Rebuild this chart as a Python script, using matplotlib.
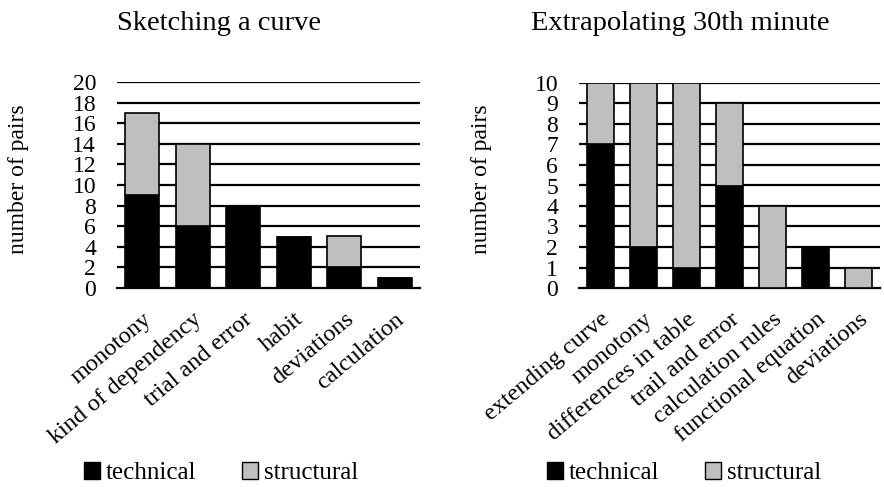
import numpy as np
import matplotlib
matplotlib.use("Agg")
import matplotlib.pyplot as plt
from matplotlib.patches import Patch

plt.rcParams['font.family'] = ['Liberation Serif', 'DejaVu Serif']

# sketching a curve
cats_a = ["monotony", "kind of dependency", "trial and error", "habit",
          "deviations", "calculation"]
tech_a = [9, 6, 8, 5, 2, 1]
struct_a = [8, 8, 0, 0, 3, 0]

# extrapolating 30th minute
cats_b = ["extending curve", "monotony", "differences in table",
          "trail and error", "calculation rules", "functional equation",
          "deviations"]
tech_b = [7, 2, 1, 5, 0, 2, 0]
struct_b = [3, 8, 9, 4, 4, 0, 1]

GREY = "#bfbfbf"

fig = plt.figure(figsize=(8.84, 4.87), dpi=100)
ax1 = fig.add_axes([117/884, 1-288/487, 303/884, 206/487])
ax2 = fig.add_axes([579/884, 1-288/487, 301/884, 205/487])


def draw(ax, cats, tech, struct, ymax, step, width, title, tx):
    x = np.arange(len(cats))
    ax.bar(x, tech, width, color="black", edgecolor="black", linewidth=1.2, zorder=3)
    ax.bar(x, struct, width, bottom=tech, color=GREY, edgecolor="black",
           linewidth=1.2, zorder=3)
    ax.set_xlim(-0.5, len(cats) - 0.5)
    ax.set_ylim(0, ymax)
    ticks = np.arange(0, ymax + step, step)
    ax.set_yticks(ticks)
    ax.set_yticklabels([str(t) for t in ticks], fontsize=17)
    for t in ticks[1:]:
        ax.axhline(t, color="black", linewidth=1.6, zorder=1)
    for s in ["top", "right", "left"]:
        ax.spines[s].set_visible(False)
    ax.spines["bottom"].set_linewidth(1.6)
    ax.tick_params(axis="both", length=0)
    ax.tick_params(axis="y", pad=15)
    ax.set_xticks(x)
    ax.set_xticklabels(cats, rotation=40, ha="right", rotation_mode="anchor",
                       fontsize=17.5)
    ax.tick_params(axis="x", pad=15)
    ax.set_ylabel("number of pairs", fontsize=17)
    fig.text(tx, 1 - 23/487, title, ha="center", va="center", fontsize=20.5)


draw(ax1, cats_a, tech_a, struct_a, 20, 2, 0.68, "Sketching a curve", 219/884)
draw(ax2, cats_b, tech_b, struct_b, 10, 1, 0.65, "Extrapolating 30th minute", 680/884)
ax1.yaxis.set_label_coords(-0.29, 0.53)
ax2.yaxis.set_label_coords(-0.289, 0.53)

handles = [Patch(facecolor="black", edgecolor="black"),
           Patch(facecolor=GREY, edgecolor="black")]
for cx in [221/884, 684/884]:
    fig.legend(handles, ["technical", "structural"], loc="center",
               bbox_to_anchor=(cx, 1 - 473/487), ncol=2, frameon=False,
               fontsize=18, handlelength=0.65, handleheight=0.65,
               handletextpad=0.25, columnspacing=1.8, borderpad=0)

fig.savefig("out.png", dpi=100)
